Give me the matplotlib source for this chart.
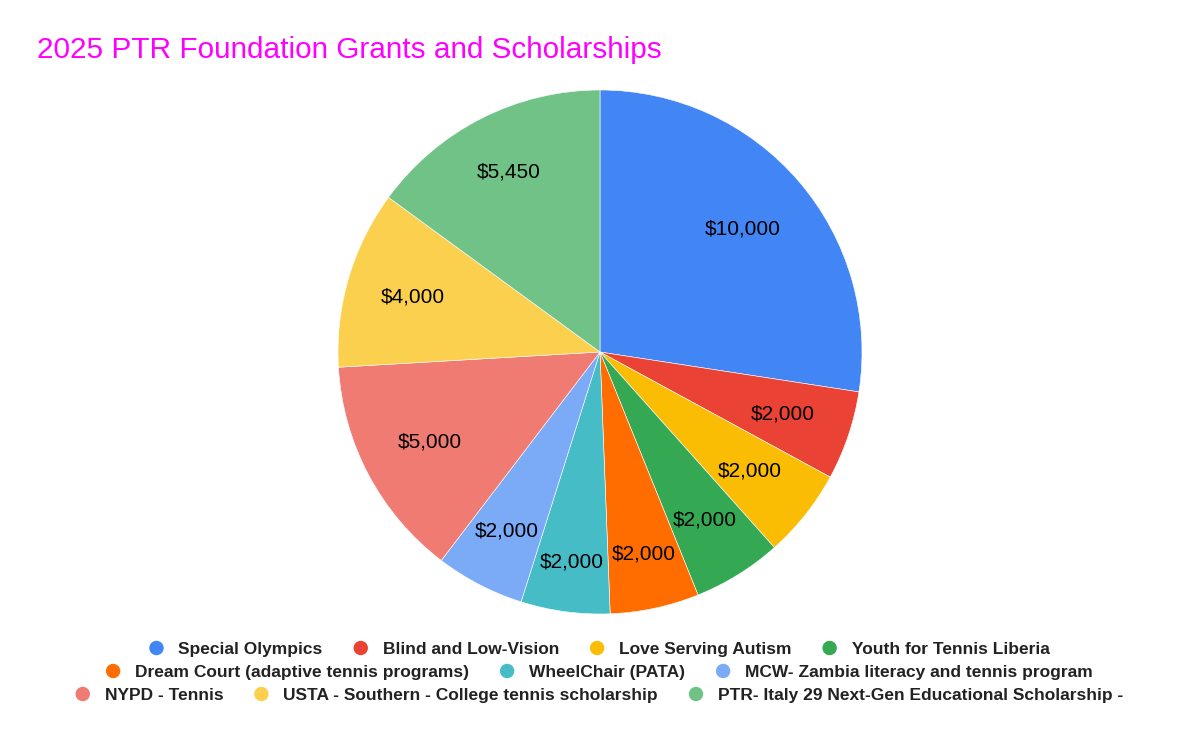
import matplotlib
matplotlib.use("Agg")
import numpy as np
import matplotlib.pyplot as plt
from matplotlib.patches import Circle

title = "2025 PTR Foundation Grants and Scholarships"
categories = [
    "Special Olympics",
    "Blind and Low-Vision",
    "Love Serving Autism",
    "Youth for Tennis Liberia",
    "Dream Court (adaptive tennis programs)",
    "WheelChair (PATA)",
    "MCW- Zambia literacy and tennis program",
    "NYPD - Tennis",
    "USTA - Southern - College tennis scholarship",
    "PTR- Italy 29 Next-Gen Educational Scholarship -",
]
values = [10000, 2000, 2000, 2000, 2000, 2000, 2000, 5000, 4000, 5450]
colors = ["#4285F4", "#EA4335", "#FBBC04", "#34A853", "#FF6D01",
          "#46BDC6", "#7BAAF7", "#F07B72", "#FCD04F", "#71C287"]
legend_rows = [4, 3, 3]
# radial placement of each value label (fraction of the radius)
label_radius = [0.72, 0.735, 0.73, 0.755, 0.79, 0.81, 0.77, 0.735, 0.745, 0.77]

plt.rcParams['font.family'] = ['Liberation Sans', 'DejaVu Sans']

W, H = 1200, 742
fig = plt.figure(figsize=(W / 100, H / 100), dpi=100)
fig.patch.set_facecolor("white")

cx, cy, r = 600, 352, 262
ax = fig.add_axes([(cx - r) / W, (H - cy - r) / H, 2 * r / W, 2 * r / H])

wedges, texts = ax.pie(values, colors=colors, startangle=90, counterclock=False,
                       radius=1, labels=[f"${v:,}" for v in values],
                       labeldistance=0.73,
                       textprops=dict(fontsize=15, color="black", ha="center", va="center"),
                       wedgeprops=dict(linewidth=0.4, edgecolor="white"))
for w, t, lr in zip(wedges, texts, label_radius):
    ang = np.deg2rad((w.theta1 + w.theta2) / 2)
    t.set_position((lr * np.cos(ang), lr * np.sin(ang)))
    t.set_ha("center")
    t.set_va("center")
ax.set_xlim(-1, 1)
ax.set_ylim(-1, 1)
ax.set_aspect("equal")
ax.axis("off")

fig.text(37 / W, 1 - 50 / H, title, fontsize=21.4, color="#FF00FF", ha="left", va="center")

# Legend (flow layout, centered rows)
renderer = fig.canvas.get_renderer()
fs = 12.5
row_y = [648, 671, 694]
gap_marker_text = 22
gap_items = 32
idx = 0
for ri, n in enumerate(legend_rows):
    items = list(range(idx, idx + n))
    idx += n
    widths = []
    for i in items:
        t = fig.text(0, 0, categories[i], fontsize=fs, fontweight="bold")
        bb = t.get_window_extent(renderer)
        widths.append(bb.width)
        t.remove()
    total = sum(6 + gap_marker_text + w for w in widths) + gap_items * (n - 1)
    x = 600 - total / 2
    y = H - row_y[ri]
    for i, w in zip(items, widths):
        circ = Circle((x + 6, y), 6.5, transform=None, color=colors[i])
        fig.patches.append(circ)
        fig.text((x + 6 + gap_marker_text) / W, y / H, categories[i],
                 fontsize=fs, fontweight="bold", color="#222222", ha="left", va="center_baseline")
        x += 6 + gap_marker_text + w + gap_items

fig.savefig("out.png", dpi=100, facecolor="white")
